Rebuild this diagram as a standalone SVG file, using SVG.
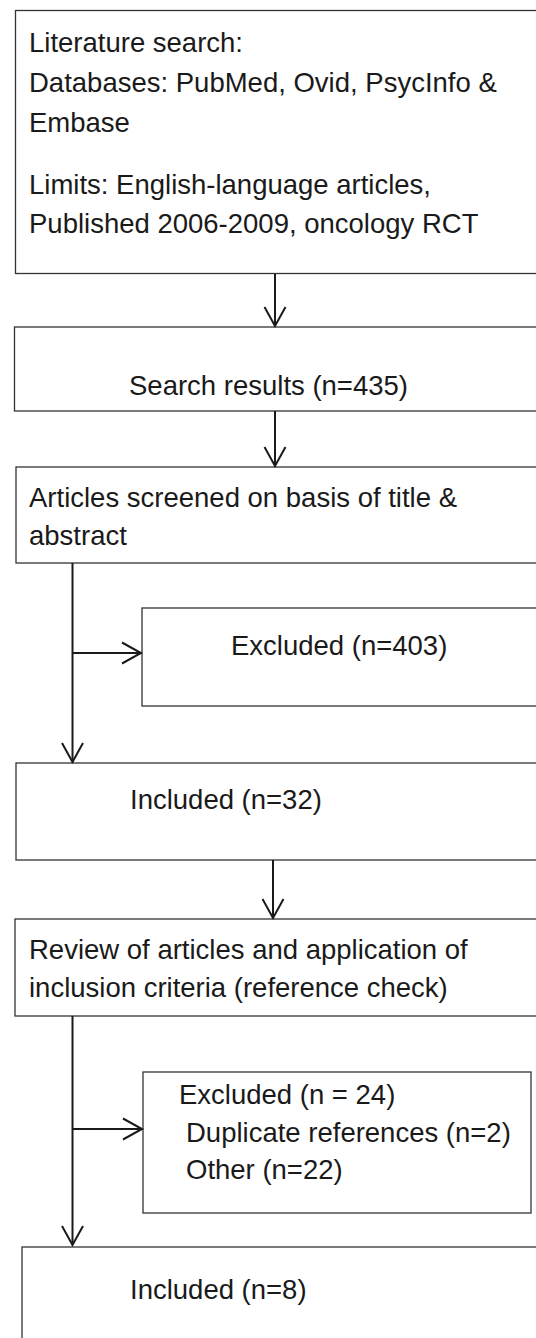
<svg xmlns="http://www.w3.org/2000/svg" width="536" height="1338" viewBox="0 0 536 1338">
<style>
.box{fill:#fff;stroke:#333;stroke-width:1.3}
.t{font-family:"Liberation Sans",Arial,sans-serif;font-size:27.5px;fill:#1a1a1a}
.c{fill:none;stroke:#1a1a1a;stroke-width:2}
</style>
<defs>
<marker id="ah" markerUnits="userSpaceOnUse" markerWidth="30" markerHeight="30" viewBox="-25 -15 30 30" refX="0" refY="0" orient="auto">
<path d="M-19,-10.5 L0,0 L-19,10.5" fill="none" stroke="#1a1a1a" stroke-width="2"/>
</marker>
</defs>
<rect width="536" height="1338" fill="#fff"/>
<g id="n1">
<rect class="box" x="15.5" y="10.5" width="530" height="263"/>
<text class="t" x="29" y="52">Literature search:</text>
<text class="t" x="29" y="92">Databases: PubMed, Ovid, PsycInfo &amp;</text>
<text class="t" x="29" y="132">Embase</text>
<text class="t" x="29" y="194">Limits: English-language articles,</text>
<text class="t" x="29" y="233">Published 2006-2009, oncology RCT</text>
</g>
<g id="n2">
<rect class="box" x="14.5" y="327" width="530" height="84"/>
<text class="t" x="129" y="395">Search results (n=435)</text>
</g>
<g id="n3">
<rect class="box" x="16" y="467" width="530" height="96"/>
<text class="t" x="29" y="507">Articles screened on basis of title &amp;</text>
<text class="t" x="29" y="545">abstract</text>
</g>
<g id="n4">
<rect class="box" x="142" y="608" width="400" height="98"/>
<text class="t" x="231" y="655">Excluded (n=403)</text>
</g>
<g id="n5">
<rect class="box" x="16" y="763" width="530" height="97"/>
<text class="t" x="130" y="809">Included (n=32)</text>
</g>
<g id="n6">
<rect class="box" x="15" y="919" width="530" height="97"/>
<text class="t" x="29" y="959">Review of articles and application of</text>
<text class="t" x="29" y="997">inclusion criteria (reference check)</text>
</g>
<g id="n7">
<rect class="box" x="143" y="1072" width="388" height="141"/>
<text class="t" x="179" y="1104">Excluded (n = 24)</text>
<text class="t" x="186" y="1142">Duplicate references (n=2)</text>
<text class="t" x="186" y="1179">Other (n=22)</text>
</g>
<g id="n8">
<rect class="box" x="22" y="1247" width="530" height="100"/>
<text class="t" x="130" y="1299">Included (n=8)</text>
</g>
<g id="connectors">
<line class="c" x1="275" y1="274" x2="275" y2="326" marker-end="url(#ah)"/>
<line class="c" x1="275" y1="411" x2="275" y2="466" marker-end="url(#ah)"/>
<line class="c" x1="72.5" y1="563" x2="72.5" y2="762" marker-end="url(#ah)"/>
<line class="c" x1="72.5" y1="653" x2="141" y2="653" marker-end="url(#ah)"/>
<line class="c" x1="273" y1="860" x2="273" y2="918" marker-end="url(#ah)"/>
<line class="c" x1="72.5" y1="1016" x2="72.5" y2="1245" marker-end="url(#ah)"/>
<line class="c" x1="72.5" y1="1129" x2="142" y2="1129" marker-end="url(#ah)"/>
</g>
</svg>
